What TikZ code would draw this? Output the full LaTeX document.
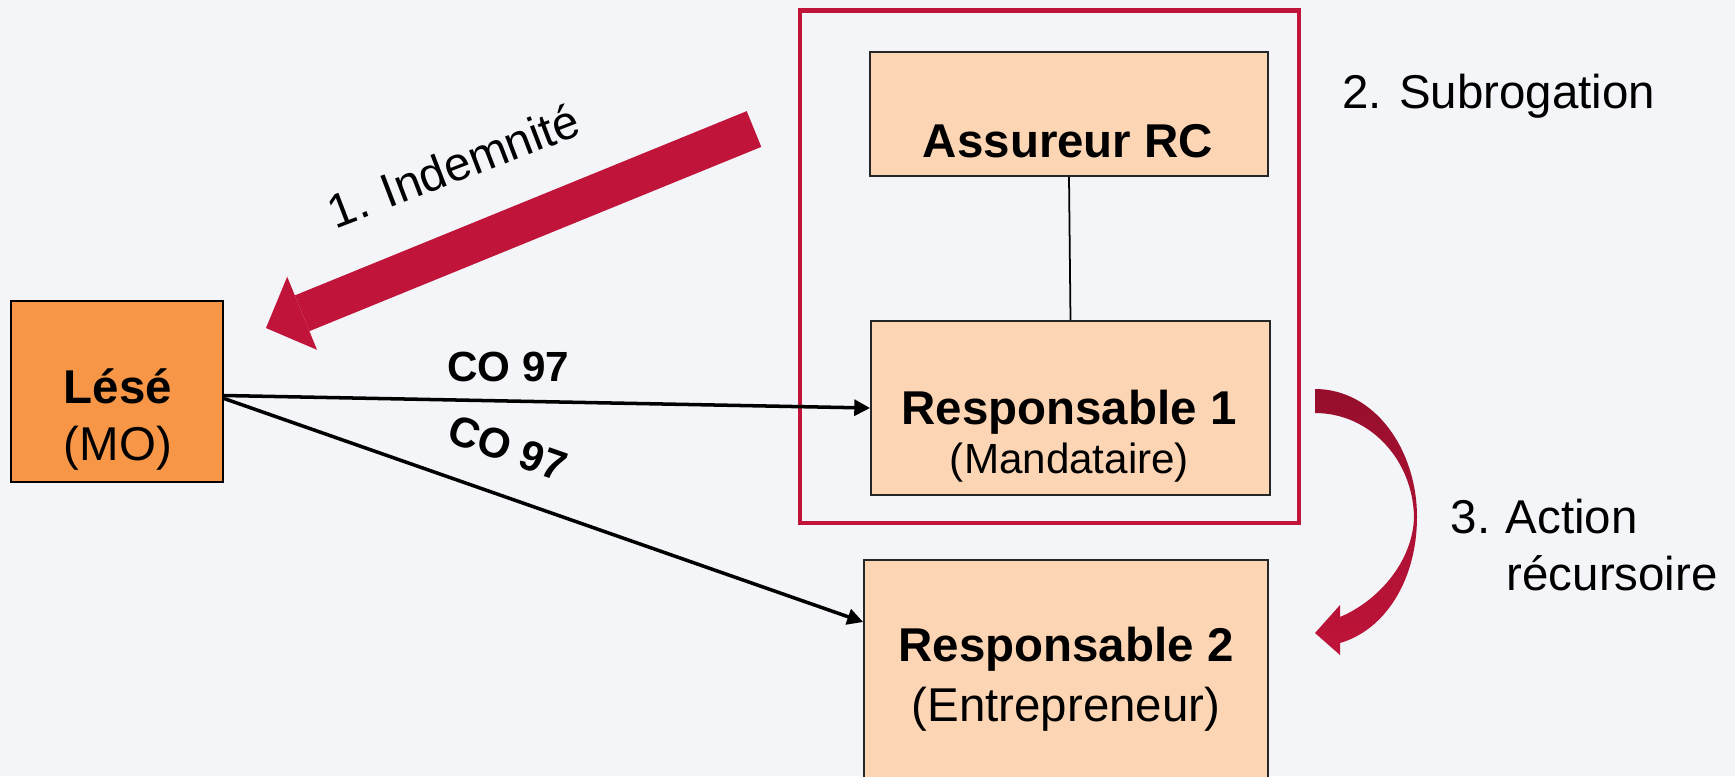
\documentclass[tikz,border=0pt]{standalone}
\usepackage{fontspec}
\setmainfont{Liberation Sans}
\usetikzlibrary{arrows.meta}
\definecolor{bgpage}{RGB}{243,245,249}
\definecolor{lesefill}{RGB}{247,150,70}
\definecolor{partfill}{RGB}{252,213,180}
\definecolor{crimson}{RGB}{192,20,58}
\definecolor{crimsondark}{RGB}{150,14,44}
\begin{document}
\begin{tikzpicture}[x=1mm,y=1mm,
    lbl/.style={inner sep=0pt,font=\fontsize{13.5}{16.2}\selectfont},
    lblb/.style={inner sep=0pt,font=\fontsize{13.5}{16.2}\selectfont\bfseries},
    colbl/.style={inner sep=0pt,font=\fontsize{12}{14}\selectfont\bfseries},
    lesebox/.style={draw=black,line width=0.7pt,fill=lesefill,inner sep=0pt},
    partbox/.style={draw=black!85,line width=0.5pt,fill=partfill,inner sep=0pt},
    coarrow/.style={line width=1pt,-{Triangle[width=4.5pt,length=4.5pt]}},
    bigarrow/.style={crimson,line width=3.86mm,-{Triangle[width=7.9mm,length=3.9mm,line width=0pt]}}]
    \fill [bgpage] (0,0) rectangle (173.5,-77.6);
    \clip (0,0) rectangle (173.5,-77.6);
    \node [lesebox,minimum width=21.2mm,minimum height=18.1mm] (lese) at (11.68,-39.15) {};
    \node [lblb,anchor=base] (lesename) at (11.8,-40.3) {Lésé};
    \node [lbl,anchor=base] (lesemo) at (11.8,-46.0) {(MO)};
    \node [draw=crimson,line width=1.2pt,minimum width=49.9mm,minimum height=51.25mm] (subro) at (104.95,-26.68) {};
    \node [partbox,minimum width=39.8mm,minimum height=12.4mm] (assur) at (106.9,-11.4) {};
    \node [lblb,anchor=base] (assurname) at (106.8,-15.7) {Assureur RC};
    \node [partbox,minimum width=39.9mm,minimum height=17.4mm] (resp1) at (107.05,-40.8) {};
    \node [lblb,anchor=base] (resp1name) at (106.9,-42.4) {Responsable 1};
    \node [anchor=base,inner sep=0pt,font=\fontsize{12}{14}\selectfont] (resp1role) at (106.95,-47.36) {(Mandataire)};
    \node [partbox,minimum width=40.4mm,minimum height=25mm,anchor=north] (resp2) at (106.6,-55.9) {};
    \node [lblb,anchor=base] (resp2name) at (106.6,-66.17) {Responsable 2};
    \node [lbl,anchor=base] (resp2role) at (106.6,-72.1) {(Entrepreneur)};
    \draw [line width=0.5pt] (assur.south) -- (resp1.north);
    \draw [coarrow] ([yshift=-0.4mm]lese.east) -- (resp1.west)
        node [colbl,pos=0.44,above=1.7mm] (co1) {CO 97};
    \draw [coarrow] ([yshift=-0.7mm]lese.east) -- ([yshift=-6.3mm]resp2.north west)
        node [colbl,pos=0.42,sloped,above=3mm] (co2) {CO 97};
    \coordinate (indtail) at (75.4,-12.9);
    \coordinate (indtip) at (26.6,-32.8);
    \draw [bigarrow] (indtail) -- (indtip);
    \node [lbl,anchor=base,rotate=21] (indem) at (45.95,-18.15) {1. Indemnité};
    \node [lbl,anchor=base west] (subrolbl) at (134.15,-10.8) {2. Subrogation};
    \path [top color=crimsondark,bottom color=crimson]
        (131.5,-38.9) .. controls (137.5,-38.9) and (141.7,-45.0) .. (141.7,-51.7)
        .. controls (141.7,-58.0) and (138.5,-63.0) .. (134.0,-64.3)
        -- (134.0,-65.5) -- (131.5,-63.3) -- (134.0,-60.5) -- (134.0,-61.7)
        .. controls (138.0,-60.0) and (141.3,-56.0) .. (141.4,-51.7)
        .. controls (141.3,-46.0) and (137.0,-41.3) .. (131.5,-41.3) -- cycle;
    \node [lbl,anchor=base west] (actnum) at (145.0,-53.3) {3.};
    \node [lbl,anchor=base west] (actlbl) at (150.5,-53.3) {Action};
    \node [lbl,anchor=base west] (actrec) at (150.6,-59.0) {récursoire};
\end{tikzpicture}
\end{document}
